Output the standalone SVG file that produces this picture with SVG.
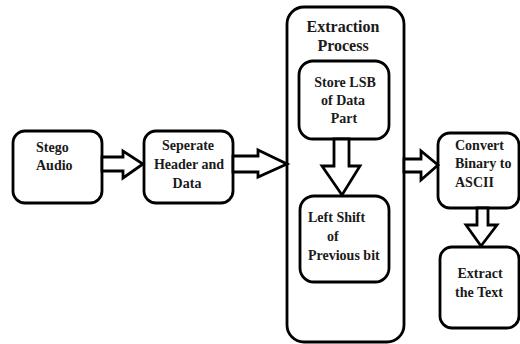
<svg xmlns="http://www.w3.org/2000/svg" width="520" height="344" viewBox="0 0 520 344">
  <style>
    .box { fill: #ffffff; stroke: #000000; stroke-width: 2.8; }
    .arrow { fill: #ffffff; stroke: #000000; stroke-width: 2.8; stroke-linejoin: miter; }
    .lbl { font-family: "Liberation Serif", "Times New Roman", serif; font-weight: bold; font-size: 14px; fill: #1a1a1a; }
    .title { font-size: 16px; }
    .mid { text-anchor: middle; }
  </style>
  <rect width="520" height="344" fill="#ffffff"/>

  <!-- outer process container -->
  <g id="extraction-process">
    <rect class="box" x="287" y="7" width="117" height="335" rx="17"/>
    <text class="lbl title mid" x="343" y="32">Extraction</text>
    <text class="lbl title mid" x="343" y="51">Process</text>
  </g>

  <g id="stego-audio">
    <rect class="box" x="13" y="131" width="89" height="72" rx="12"/>
    <text class="lbl" x="36" y="152">Stego</text>
    <text class="lbl" x="36" y="170">Audio</text>
  </g>

  <g id="separate-header">
    <rect class="box" x="144" y="131" width="89" height="72" rx="12"/>
    <text class="lbl mid" x="188" y="150">Seperate</text>
    <text class="lbl mid" x="189" y="169">Header and</text>
    <text class="lbl mid" x="187" y="188">Data</text>
  </g>

  <g id="store-lsb">
    <rect class="box" x="299" y="61" width="90" height="78" rx="14"/>
    <text class="lbl mid" x="345" y="87">Store LSB</text>
    <text class="lbl mid" x="343" y="105">of Data</text>
    <text class="lbl mid" x="344" y="123">Part</text>
  </g>

  <g id="left-shift">
    <rect class="box" x="300" y="196" width="89" height="86" rx="14"/>
    <text class="lbl" x="308" y="222">Left Shift</text>
    <text class="lbl" x="327" y="241">of</text>
    <text class="lbl" x="308" y="260">Previous bit</text>
  </g>

  <g id="convert-ascii">
    <rect class="box" x="438" y="133" width="81" height="75" rx="12"/>
    <text class="lbl" x="455" y="150">Convert</text>
    <text class="lbl" x="455" y="168">Binary to</text>
    <text class="lbl" x="455" y="187">ASCII</text>
  </g>

  <g id="extract-text">
    <rect class="box" x="440" y="247" width="79" height="81" rx="12"/>
    <text class="lbl mid" x="480" y="278">Extract</text>
    <text class="lbl mid" x="479" y="297">the Text</text>
  </g>

  <!-- block arrows between steps -->
  <g id="connectors">
    <polygon class="arrow" points="102,157 123,157 123,151 143,164 123,178 123,171 102,171"/>
    <polygon class="arrow" points="233,156 258,156 258,150 287,164 258,177 258,172 233,172"/>
    <polygon class="arrow" points="404,159 421,159 421,151 438,165 421,180 421,172 404,172"/>
    <polygon class="arrow" points="334,139 349,139 349,166 360,166 342,195 322,166 334,166"/>
    <polygon class="arrow" points="477,208 488,208 488,225 497,225 481,246 466,225 477,225"/>
  </g>
</svg>
